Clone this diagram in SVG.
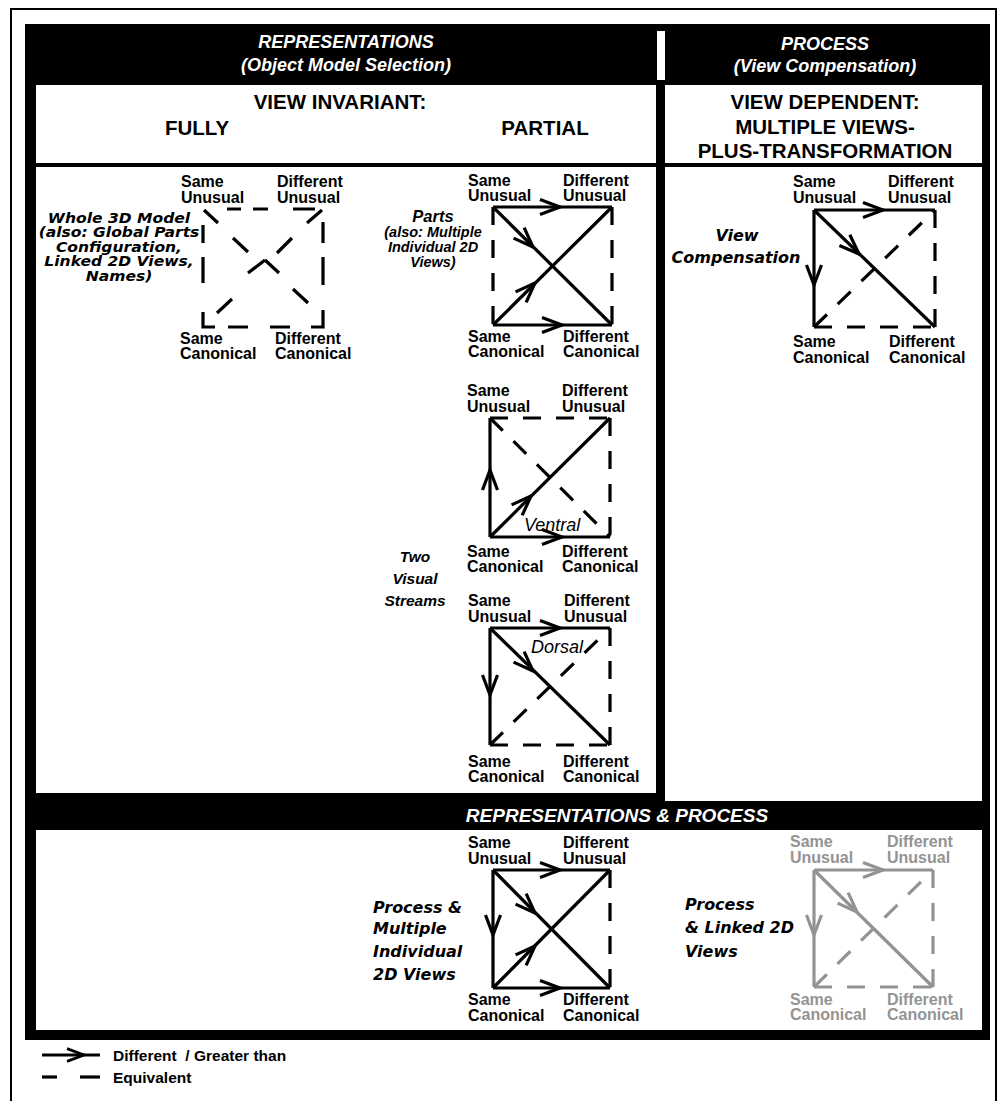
<svg xmlns="http://www.w3.org/2000/svg" width="1002" height="1101" viewBox="0 0 1002 1101">
<style>
.lbl{font-family:"Liberation Sans",Arial,sans-serif;font-weight:bold;font-size:16px;fill:#000}
.gray .lbl{fill:#939393}
.hd{font-family:"Liberation Sans",Arial,sans-serif;font-weight:bold;font-size:20.5px;text-anchor:middle;fill:#000}
.hi{font-family:"Liberation Sans",Arial,sans-serif;font-weight:bold;font-style:italic;font-size:18px;fill:#fff;text-anchor:middle}
.side{font-family:"DejaVu Sans",sans-serif;font-weight:bold;font-style:oblique;font-size:16px;fill:#000}
.wide{font-size:14px}
.it{font-family:"Liberation Sans",Arial,sans-serif;font-weight:bold;font-style:italic;font-size:15.5px;fill:#000}
.mid{text-anchor:middle}
.stream{font-family:"Liberation Sans",Arial,sans-serif;font-style:italic;font-size:18px;fill:#000}
.leg{font-family:"Liberation Sans",Arial,sans-serif;font-weight:bold;font-size:15.5px;fill:#000}
.s{stroke:#000;stroke-width:3.2;fill:none}
.d{stroke:#000;stroke-width:3.2;fill:none;stroke-dasharray:18 15}
.ch{stroke:#000;stroke-width:3.2;fill:none}
.g .s,.g .d,.g .ch{stroke:#939393}
</style>
<defs>
<path id="chev" d="M-20,-7.5 L0,0 L-20,7.5"/>
</defs>

<g id="frame">
<path d="M11,1101 V9 H996 V1101" fill="none" stroke="#000" stroke-width="2"/>
<rect x="25" y="24" width="965" height="1016" fill="#000"/>
<rect x="657" y="31" width="8" height="49" fill="#fff"/>
<rect x="36" y="85" width="620" height="78" fill="#fff"/>
<rect x="36" y="167" width="620" height="626" fill="#fff"/>
<rect x="665" y="85" width="317" height="78" fill="#fff"/>
<rect x="665" y="167" width="317" height="634" fill="#fff"/>
<rect x="36" y="830" width="946" height="200" fill="#fff"/>
</g>

<g id="headers">
<text class="hi" x="346" y="48">REPRESENTATIONS</text>
<text class="hi" x="346" y="71">(Object Model Selection)</text>
<text class="hi" x="825" y="50">PROCESS</text>
<text class="hi" x="825" y="72">(View Compensation)</text>
<text class="hd" x="340" y="109">VIEW INVARIANT:</text>
<text class="hd" x="197" y="135">FULLY</text>
<text class="hd" x="545" y="135">PARTIAL</text>
<text class="hd" x="825" y="109">VIEW DEPENDENT:</text>
<text class="hd" x="825" y="134">MULTIPLE VIEWS-</text>
<text class="hd" x="825" y="158">PLUS-TRANSFORMATION</text>
<text class="hi" x="617" y="822" style="font-size:19px">REPRESENTATIONS &amp; PROCESS</text>
</g>

<g id="side-labels">
<g transform="translate(119,0) scale(1.11,1)">
<text class="side wide mid" x="0"><tspan x="0" y="223">Whole 3D Model</tspan><tspan x="0" y="237.5">(also: Global Parts</tspan><tspan x="0" y="252">Configuration,</tspan><tspan x="0" y="266.5">Linked 2D Views,</tspan><tspan x="0" y="281">Names)</tspan></text>
</g>
<text class="it mid" x="433"><tspan x="433" y="222" style="font-size:16.5px">Parts</tspan><tspan x="433" y="237" style="font-size:14.5px">(also: Multiple</tspan><tspan x="433" y="252" style="font-size:14.5px">Individual 2D</tspan><tspan x="433" y="267" style="font-size:14.5px">Views)</tspan></text>
<text class="it mid" x="415"><tspan x="415" y="562">Two</tspan><tspan x="415" y="584">Visual</tspan><tspan x="415" y="606">Streams</tspan></text>
<text class="side mid" x="737"><tspan x="737" y="241">View</tspan><tspan x="736" y="263">Compensation</tspan></text>
<text class="side" x="373"><tspan x="373" y="913">Process &amp;</tspan><tspan x="373" y="934">Multiple</tspan><tspan x="373" y="957">Individual</tspan><tspan x="373" y="980">2D Views</tspan></text>
<text class="side" x="685"><tspan x="685" y="910">Process</tspan><tspan x="685" y="933">&amp; Linked 2D</tspan><tspan x="685" y="957">Views</tspan></text>
<text class="stream" x="524" y="531">Ventral</text>
<text class="stream" x="531" y="653">Dorsal</text>
</g>

<g id="nodes">
<g id="d1-labels">
<g id="d1-su"><text class="lbl"><tspan x="181" y="187">Same</tspan><tspan x="181" y="203">Unusual</tspan></text></g>
<g id="d1-du"><text class="lbl"><tspan x="277" y="187">Different</tspan><tspan x="277" y="203">Unusual</tspan></text></g>
<g id="d1-sc"><text class="lbl"><tspan x="180" y="344">Same</tspan><tspan x="180" y="359">Canonical</tspan></text></g>
<g id="d1-dc"><text class="lbl"><tspan x="275" y="344">Different</tspan><tspan x="275" y="359">Canonical</tspan></text></g>
</g>
<g id="d2-labels">
<g id="d2-su"><text class="lbl"><tspan x="468" y="186">Same</tspan><tspan x="468" y="201">Unusual</tspan></text></g>
<g id="d2-du"><text class="lbl"><tspan x="563" y="186">Different</tspan><tspan x="563" y="201">Unusual</tspan></text></g>
<g id="d2-sc"><text class="lbl"><tspan x="468" y="342">Same</tspan><tspan x="468" y="357">Canonical</tspan></text></g>
<g id="d2-dc"><text class="lbl"><tspan x="563" y="342">Different</tspan><tspan x="563" y="357">Canonical</tspan></text></g>
</g>
<g id="d3-labels">
<g id="d3-su"><text class="lbl"><tspan x="467" y="396">Same</tspan><tspan x="467" y="412">Unusual</tspan></text></g>
<g id="d3-du"><text class="lbl"><tspan x="562" y="396">Different</tspan><tspan x="562" y="412">Unusual</tspan></text></g>
<g id="d3-sc"><text class="lbl"><tspan x="467" y="557">Same</tspan><tspan x="467" y="572">Canonical</tspan></text></g>
<g id="d3-dc"><text class="lbl"><tspan x="562" y="557">Different</tspan><tspan x="562" y="572">Canonical</tspan></text></g>
</g>
<g id="d4-labels">
<g id="d4-su"><text class="lbl"><tspan x="468" y="606">Same</tspan><tspan x="468" y="622">Unusual</tspan></text></g>
<g id="d4-du"><text class="lbl"><tspan x="564" y="606">Different</tspan><tspan x="564" y="622">Unusual</tspan></text></g>
<g id="d4-sc"><text class="lbl"><tspan x="468" y="767">Same</tspan><tspan x="468" y="782">Canonical</tspan></text></g>
<g id="d4-dc"><text class="lbl"><tspan x="563" y="767">Different</tspan><tspan x="563" y="782">Canonical</tspan></text></g>
</g>
<g id="d5-labels">
<g id="d5-su"><text class="lbl"><tspan x="793" y="187">Same</tspan><tspan x="793" y="203">Unusual</tspan></text></g>
<g id="d5-du"><text class="lbl"><tspan x="888" y="187">Different</tspan><tspan x="888" y="203">Unusual</tspan></text></g>
<g id="d5-sc"><text class="lbl"><tspan x="793" y="347">Same</tspan><tspan x="793" y="363">Canonical</tspan></text></g>
<g id="d5-dc"><text class="lbl"><tspan x="889" y="347">Different</tspan><tspan x="889" y="363">Canonical</tspan></text></g>
</g>
<g id="d6-labels">
<g id="d6-su"><text class="lbl"><tspan x="468" y="848">Same</tspan><tspan x="468" y="864">Unusual</tspan></text></g>
<g id="d6-du"><text class="lbl"><tspan x="563" y="848">Different</tspan><tspan x="563" y="864">Unusual</tspan></text></g>
<g id="d6-sc"><text class="lbl"><tspan x="468" y="1005">Same</tspan><tspan x="468" y="1021">Canonical</tspan></text></g>
<g id="d6-dc"><text class="lbl"><tspan x="563" y="1005">Different</tspan><tspan x="563" y="1021">Canonical</tspan></text></g>
</g>
<g id="d7-labels" class="gray">
<g id="d7-su"><text class="lbl"><tspan x="790" y="847">Same</tspan><tspan x="790" y="863">Unusual</tspan></text></g>
<g id="d7-du"><text class="lbl"><tspan x="887" y="847">Different</tspan><tspan x="887" y="863">Unusual</tspan></text></g>
<g id="d7-sc"><text class="lbl"><tspan x="790" y="1005">Same</tspan><tspan x="790" y="1020">Canonical</tspan></text></g>
<g id="d7-dc"><text class="lbl"><tspan x="887" y="1005">Different</tspan><tspan x="887" y="1020">Canonical</tspan></text></g>
</g>
</g>

<g id="connectors">
<g id="d1">
<path class="s" d="M227,209 H241 M253,209 H268 M293,209 H315"/>
<path class="s" d="M203,225 V243 M203,257 V283 M203,312 V327 H215"/>
<path class="s" d="M228,327 H248 M270,327 H290 M311,327 H323 V310"/>
<path class="s" d="M323,222 V243 M323,257 V285"/>
<path class="s" d="M204,210 L218,223 M233,238 L248,252 M265,260 L279,273 M293,289 L308,303"/>
<path class="s" d="M217,313 L232,299 M248,273 L265,260 M277,253 L292,238 M307,223 L322,210"/>
</g>
<g id="d2">
<line class="s" x1="493" y1="207" x2="612" y2="207"/>
<line class="s" x1="493" y1="325" x2="612" y2="325"/>
<line class="d" x1="493" y1="207" x2="493" y2="325"/>
<line class="d" x1="612" y1="207" x2="612" y2="325"/>
<line class="s" x1="493" y1="207" x2="612" y2="325"/>
<line class="s" x1="493" y1="325" x2="612" y2="207"/>
<use href="#chev" class="ch" transform="translate(560,207)"/>
<use href="#chev" class="ch" transform="translate(562,325)"/>
<use href="#chev" class="ch" transform="translate(533,247) rotate(45)"/>
<use href="#chev" class="ch" transform="translate(535,283) rotate(-45)"/>
</g>
<g id="d3">
<line class="s" x1="490" y1="418" x2="490" y2="537"/>
<line class="s" x1="490" y1="537" x2="610" y2="537"/>
<line class="s" x1="490" y1="537" x2="610" y2="418"/>
<line class="d" x1="490" y1="418" x2="610" y2="418"/>
<line class="d" x1="610" y1="418" x2="610" y2="537"/>
<line class="d" x1="490" y1="418" x2="610" y2="537"/>
<use href="#chev" class="ch" transform="translate(490,470) rotate(-90)"/>
<use href="#chev" class="ch" transform="translate(562,537)"/>
<use href="#chev" class="ch" transform="translate(531,496) rotate(-45)"/>
</g>
<g id="d4">
<line class="s" x1="490" y1="628" x2="610" y2="628"/>
<line class="s" x1="490" y1="628" x2="490" y2="745"/>
<line class="s" x1="490" y1="628" x2="610" y2="745"/>
<line class="d" x1="610" y1="628" x2="610" y2="745"/>
<line class="d" x1="490" y1="745" x2="610" y2="745"/>
<line class="d" x1="490" y1="745" x2="610" y2="628"/>
<use href="#chev" class="ch" transform="translate(560,628)"/>
<use href="#chev" class="ch" transform="translate(490,695) rotate(90)"/>
<use href="#chev" class="ch" transform="translate(533,671) rotate(45)"/>
</g>
<g id="d5">
<line class="s" x1="814" y1="210" x2="935" y2="210"/>
<line class="s" x1="814" y1="210" x2="814" y2="327"/>
<line class="s" x1="814" y1="210" x2="935" y2="327"/>
<line class="d" x1="935" y1="210" x2="935" y2="327"/>
<line class="d" x1="814" y1="327" x2="935" y2="327"/>
<line class="d" x1="814" y1="327" x2="935" y2="210"/>
<use href="#chev" class="ch" transform="translate(883,210)"/>
<use href="#chev" class="ch" transform="translate(814,285) rotate(90)"/>
<use href="#chev" class="ch" transform="translate(859,254) rotate(44)"/>
</g>
<g id="d6">
<line class="s" x1="493" y1="870" x2="610" y2="870"/>
<line class="s" x1="493" y1="870" x2="493" y2="988"/>
<line class="s" x1="493" y1="988" x2="610" y2="988"/>
<line class="s" x1="493" y1="870" x2="610" y2="988"/>
<line class="s" x1="493" y1="988" x2="610" y2="870"/>
<line class="d" x1="610" y1="870" x2="610" y2="988"/>
<use href="#chev" class="ch" transform="translate(560,870)"/>
<use href="#chev" class="ch" transform="translate(493,935) rotate(90)"/>
<use href="#chev" class="ch" transform="translate(535,913) rotate(45)"/>
<use href="#chev" class="ch" transform="translate(535,946) rotate(-45)"/>
<use href="#chev" class="ch" transform="translate(560,988)"/>
</g>
<g id="d7" class="g">
<line class="s" x1="814" y1="870" x2="933" y2="870"/>
<line class="s" x1="814" y1="870" x2="814" y2="987"/>
<line class="s" x1="814" y1="870" x2="933" y2="987"/>
<line class="d" x1="933" y1="870" x2="933" y2="987"/>
<line class="d" x1="814" y1="987" x2="933" y2="987"/>
<line class="d" x1="814" y1="987" x2="933" y2="870"/>
<use href="#chev" class="ch" transform="translate(883,870)"/>
<use href="#chev" class="ch" transform="translate(814,935) rotate(90)"/>
<use href="#chev" class="ch" transform="translate(857,912) rotate(45)"/>
</g>
</g>

<g id="legend">
<line class="s" x1="42" y1="1055" x2="100" y2="1055"/>
<use href="#chev" class="ch" transform="translate(84,1055) scale(0.85)"/>
<text class="leg" x="113" y="1061">Different&#160; / Greater than</text>
<line class="s" x1="42" y1="1077" x2="57" y2="1077"/>
<line class="s" x1="80" y1="1077" x2="100" y2="1077"/>
<text class="leg" x="113" y="1083">Equivalent</text>
</g>
</svg>
